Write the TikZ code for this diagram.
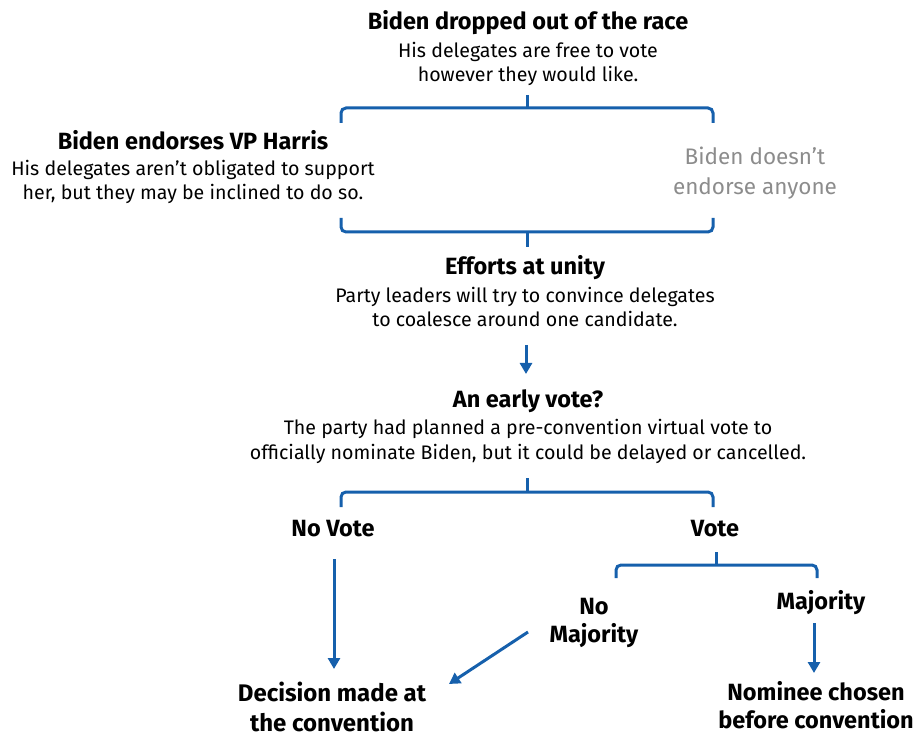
\documentclass[tikz,border=0pt]{standalone}
\usepackage{fontspec}
\setmainfont{Fira Sans}
\usepackage{xcolor}
\usetikzlibrary{positioning, arrows.meta}

\definecolor{branchblue}{RGB}{22,96,172}
\definecolor{softgray}{RGB}{140,140,140}

\begin{document}
\begin{tikzpicture}[
  x=1pt, y=-1pt,
  >={Triangle[length=11pt, width=12pt]},
  heading/.style={anchor=base, inner sep=0pt, align=center, font=\fontsize{23.5}{28}\selectfont\bfseries},
  detail/.style={anchor=base, inner sep=0pt, align=center, font=\fontsize{19.6}{24.5}\selectfont},
  faded/.style={anchor=base, inner sep=0pt, align=center, text=softgray, font=\fontsize{22.5}{30}\selectfont},
  bracket/.style={draw=branchblue, line width=3pt, rounded corners=5pt},
  flow/.style={->, draw=branchblue, line width=3pt}
]
\path[use as bounding box] (0,0) rectangle (914,738);

% ---------- Topo: Biden sai da disputa ----------
\node[heading] (drop) at (528,30) {Biden dropped out of the race};
\node[detail] (dropinfo) at (528,82) {His delegates are free to vote\\however they would like.};

% ---------- Dois caminhos: apoio ou não ----------
\node[heading] (endorse) at (193,150) {Biden endorses VP Harris};
\node[detail] (endorseinfo) at (193,200) {His delegates aren't obligated to support\\her, but they may be inclined to do so.};
\node[faded] (noendorse) at (755,195) {Biden doesn't\\endorse anyone};

% ---------- Unidade e voto antecipado ----------
\node[heading] (unity) at (525,275) {Efforts at unity};
\node[detail] (unityinfo) at (525,327) {Party leaders will try to convince delegates\\to coalesce around one candidate.};
\node[heading] (early) at (528,407) {An early vote?};
\node[detail] (earlyinfo) at (528,459) {The party had planned a pre-convention virtual vote to\\officially nominate Biden, but it could be delayed or cancelled.};

% ---------- Resultado do voto ----------
\node[heading] (novote) at (333,536) {No Vote};
\node[heading] (vote) at (715,536) {Vote};
\node[heading] (nomaj) at (594,642) {No\\Majority};
\node[heading] (maj) at (821,609) {Majority};
\node[heading, font=\fontsize{24}{30}\selectfont\bfseries] (convention) at (332,731) {Decision made at\\the convention};
\node[heading] (nominee) at (816,728) {Nominee chosen\\before convention};

% ---------- Chaves (pontos das hastes) ----------
\coordinate (b1stem) at (527,95);
\coordinate (b1mid) at (527,108);
\coordinate (b2stem) at (527,247);
\coordinate (b2mid) at (527,232);
\coordinate (b3stem) at (527,478);
\coordinate (b3mid) at (527,492);
\coordinate (b4stem) at (716,552);
\coordinate (b4mid) at (716,565);

\draw[bracket] (341,123) -- (341,108) -- (713,108) -- (713,123);
\draw[bracket] (b1stem) -- (b1mid);
\draw[bracket] (341,218) -- (341,232) -- (713,232) -- (713,218);
\draw[bracket] (b2mid) -- (b2stem);
\draw[bracket] (341,507) -- (341,492) -- (713,492) -- (713,507);
\draw[bracket] (b3stem) -- (b3mid);
\draw[bracket] (616,578) -- (616,565) -- (817,565) -- (817,578);
\draw[bracket] (b4stem) -- (b4mid);

% ---------- Setas ----------
\coordinate (u0) at (526,345);
\coordinate (u1) at (526,374);
\draw[flow] (u0) -- (u1);
\coordinate (nv0) at (334,559);
\coordinate (nv1) at (334,669);
\draw[flow] (nv0) -- (nv1);
\coordinate (nm0) at (528,632);
\coordinate (nm1) at (449,684);
\draw[flow] (nm0) -- (nm1);
\coordinate (mj0) at (814,623);
\coordinate (mj1) at (814,673);
\draw[flow] (mj0) -- (mj1);

\end{tikzpicture}
\end{document}
